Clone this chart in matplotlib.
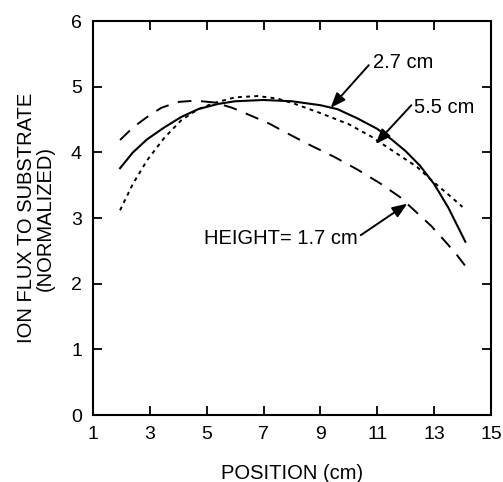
import matplotlib
matplotlib.use('Agg')
import matplotlib.pyplot as plt
import numpy as np

plt.rcParams['font.family'] = ['Liberation Sans', 'DejaVu Sans']

# Data (position in cm, normalized ion flux)
pos_27 = [1.95, 2.4, 2.9, 3.5, 4.1, 4.7, 5.4, 6.0, 7.0, 8.0, 9.0, 9.6, 10.3, 11.0, 11.5, 12.0, 12.5, 13.0, 13.5, 14.1]
flux_27 = [3.76, 4.00, 4.20, 4.38, 4.54, 4.66, 4.74, 4.78, 4.80, 4.78, 4.72, 4.66, 4.52, 4.36, 4.20, 4.02, 3.80, 3.52, 3.16, 2.64]

pos_55 = [1.95, 2.4, 2.9, 3.5, 4.1, 4.7, 5.3, 6.0, 6.8, 7.5, 8.1, 9.0, 10.0, 10.8, 11.7, 12.4, 12.9, 13.5, 14.0]
flux_55 = [3.12, 3.52, 3.88, 4.22, 4.49, 4.66, 4.76, 4.84, 4.86, 4.82, 4.74, 4.60, 4.43, 4.24, 3.98, 3.78, 3.58, 3.36, 3.17]

pos_17 = [1.95, 2.4, 2.9, 3.4, 4.0, 4.6, 5.3, 5.9, 6.4, 7.2, 7.8, 8.6, 9.5, 10.3, 11.1, 11.8, 12.3, 12.9, 13.4, 13.8, 14.1]
flux_17 = [4.19, 4.38, 4.54, 4.68, 4.77, 4.79, 4.76, 4.68, 4.59, 4.44, 4.30, 4.12, 3.93, 3.74, 3.53, 3.32, 3.12, 2.88, 2.64, 2.44, 2.27]

x_ticks = [1, 3, 5, 7, 9, 11, 13, 15]
y_ticks = [0, 1, 2, 3, 4, 5, 6]

fig = plt.figure(figsize=(5.03, 4.82), dpi=100)
ax = fig.add_axes([0.185, 0.139, 0.791, 0.817])

ax.plot(pos_27, flux_27, color='black', lw=1.5, ls='-')
ax.plot(pos_55, flux_55, color='black', lw=1.4, ls=(0, (2.0, 2.2)))
ax.plot(pos_17, flux_17, color='black', lw=1.4, ls=(0, (7, 5)))

ax.set_xlim(1, 15)
ax.set_ylim(0, 6)
ax.set_xticks(x_ticks)
ax.set_yticks(y_ticks)
ax.tick_params(direction='in', top=True, right=True, length=6.5, width=1.3,
               labelsize=14, pad=8)
for sp in ax.spines.values():
    sp.set_linewidth(1.5)

ax.set_xlabel('POSITION (cm)', fontsize=14.5, labelpad=15)
ax.set_ylabel('ION FLUX TO SUBSTRATE\n(NORMALIZED)', fontsize=14.5,
              labelpad=12, linespacing=0.95)

# labels and arrows
arrow = dict(arrowstyle='-|>,head_length=0.9,head_width=0.35', color='black', lw=1.4,
             shrinkA=0, shrinkB=0)
ax.text(10.85, 5.37, '2.7 cm', fontsize=14.5, ha='left', va='center')
ax.annotate('', xy=(9.36, 4.68), xytext=(10.7, 5.33), arrowprops=arrow)
ax.text(12.28, 4.69, '5.5 cm', fontsize=14.5, ha='left', va='center')
ax.annotate('', xy=(10.94, 4.13), xytext=(12.2, 4.72), arrowprops=arrow)
ax.text(10.31, 2.69, 'HEIGHT= 1.7 cm', fontsize=14.5, ha='right', va='center')
ax.annotate('', xy=(12.06, 3.22), xytext=(10.42, 2.74), arrowprops=arrow)

fig.savefig('out.png', dpi=100)
